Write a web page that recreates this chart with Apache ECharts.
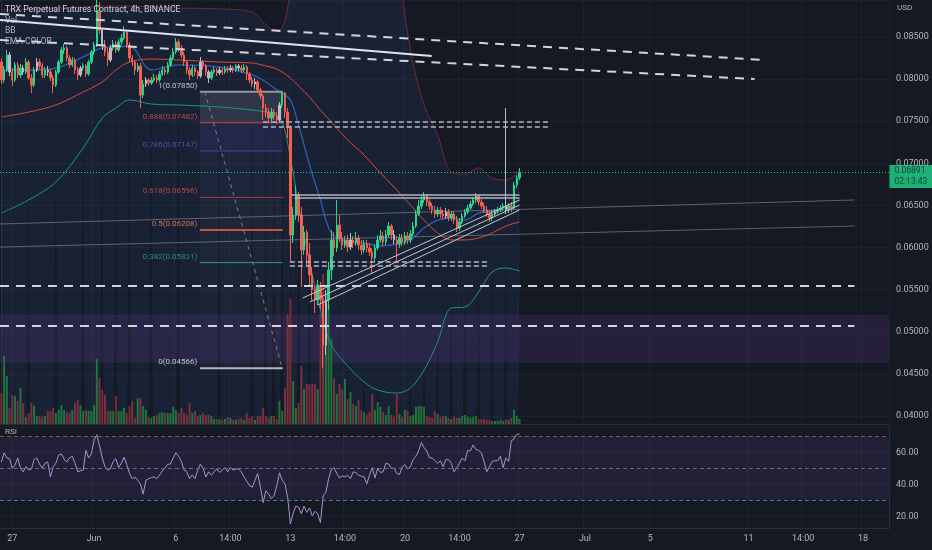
<!DOCTYPE html>
<html><head><meta charset="utf-8">
<script src="https://cdn.jsdelivr.net/npm/echarts@6/dist/echarts.min.js"></script>
<style>html,body{margin:0;padding:0;background:#151924;}#c{width:932px;height:550px;}</style>
</head><body><div id="c"></div>
<script>
// ---- data: 4h candles [open, close, low, high] ----
const candles = [
[0.08203,0.07990,0.07942,0.08251],[0.07990,0.08108,0.07954,0.08156],[0.08108,0.08286,0.08084,0.08346],[0.08286,0.08084,0.08037,0.08322],[0.08084,0.07990,0.07918,0.08132],
[0.07990,0.08168,0.07966,0.08203],[0.08168,0.08049,0.08013,0.08203],[0.08049,0.08132,0.08013,0.08180],[0.08132,0.08084,0.08049,0.08168],[0.08084,0.08203,0.08061,0.08251],
[0.08203,0.08013,0.07990,0.08227],[0.08013,0.07930,0.07835,0.08061],[0.07930,0.08108,0.07906,0.08144],[0.08108,0.08203,0.08084,0.08251],[0.08203,0.08156,0.08120,0.08239],
[0.08156,0.08049,0.08013,0.08191],[0.08049,0.08108,0.08013,0.08144],[0.08108,0.08084,0.08037,0.08156],[0.08084,0.08013,0.07978,0.08120],[0.08013,0.07930,0.07835,0.08049],
[0.07930,0.08084,0.07906,0.08108],[0.08084,0.08203,0.08061,0.08227],[0.08203,0.08346,0.08180,0.08381],[0.08346,0.08370,0.08298,0.08417],[0.08370,0.08251,0.08215,0.08393],
[0.08251,0.08168,0.08132,0.08286],[0.08168,0.08227,0.08144,0.08263],[0.08227,0.08108,0.08061,0.08251],[0.08108,0.08049,0.07990,0.08144],[0.08049,0.08132,0.08025,0.08156],
[0.08132,0.08156,0.08096,0.08191],[0.08156,0.08061,0.08025,0.08180],[0.08061,0.08203,0.08037,0.08227],[0.08203,0.08322,0.08180,0.08346],[0.08322,0.08405,0.08286,0.08441],
[0.08405,0.08797,0.08381,0.09020],[0.08797,0.08583,0.08536,0.08916],[0.08583,0.08405,0.08346,0.08607],[0.08405,0.08322,0.08275,0.08465],[0.08322,0.08227,0.08156,0.08370],
[0.08227,0.08370,0.08203,0.08405],[0.08370,0.08417,0.08334,0.08465],[0.08417,0.08346,0.08310,0.08453],[0.08346,0.08441,0.08322,0.08476],[0.08441,0.08488,0.08405,0.08536],
[0.08488,0.08559,0.08465,0.08631],[0.08559,0.08405,0.08370,0.08583],[0.08405,0.08251,0.08203,0.08441],[0.08251,0.08203,0.08156,0.08286],[0.08203,0.08108,0.08049,0.08227],
[0.08108,0.08156,0.08084,0.08191],[0.08156,0.07811,0.07657,0.08191],[0.07811,0.07942,0.07776,0.07990],[0.07942,0.07990,0.07906,0.08025],[0.07990,0.07954,0.07918,0.08013],
[0.07954,0.07990,0.07930,0.08025],[0.07990,0.08013,0.07966,0.08061],[0.08013,0.07990,0.07954,0.08049],[0.07990,0.08061,0.07966,0.08096],[0.08061,0.08108,0.08037,0.08156],
[0.08108,0.08084,0.08049,0.08144],[0.08084,0.08168,0.08061,0.08203],[0.08168,0.08251,0.08144,0.08286],[0.08251,0.08322,0.08227,0.08370],[0.08322,0.08441,0.08298,0.08488],
[0.08441,0.08370,0.08322,0.08476],[0.08370,0.08286,0.08251,0.08405],[0.08286,0.08203,0.08156,0.08322],[0.08203,0.08108,0.08061,0.08227],[0.08108,0.08049,0.07990,0.08144],
[0.08049,0.08132,0.08025,0.08168],[0.08132,0.08084,0.08037,0.08156],[0.08084,0.08037,0.08001,0.08108],[0.08037,0.08203,0.08013,0.08263],[0.08203,0.08156,0.08108,0.08227],
[0.08156,0.08084,0.08037,0.08180],[0.08084,0.08013,0.07954,0.08108],[0.08013,0.08084,0.07990,0.08108],[0.08084,0.08108,0.08061,0.08144],[0.08108,0.08073,0.08037,0.08132],
[0.08073,0.08108,0.08049,0.08144],[0.08108,0.08084,0.08049,0.08132],[0.08084,0.08120,0.08061,0.08156],[0.08120,0.08108,0.08073,0.08156],[0.08108,0.08132,0.08084,0.08168],
[0.08132,0.08108,0.08073,0.08156],[0.08108,0.08156,0.08084,0.08180],[0.08156,0.08132,0.08096,0.08180],[0.08132,0.08108,0.08073,0.08168],[0.08108,0.08144,0.08084,0.08180],
[0.08144,0.08061,0.07990,0.08168],[0.08061,0.07990,0.07954,0.08084],[0.07990,0.07942,0.07906,0.08025],[0.07942,0.07966,0.07883,0.08013],[0.07966,0.07871,0.07835,0.07990],
[0.07871,0.07799,0.07764,0.07894],[0.07799,0.07657,0.07515,0.07823],[0.07657,0.07609,0.07550,0.07704],[0.07609,0.07538,0.07479,0.07657],[0.07538,0.07609,0.07503,0.07657],
[0.07609,0.07562,0.07515,0.07645],[0.07562,0.07515,0.07467,0.07609],[0.07515,0.07693,0.07491,0.07728],[0.07693,0.07835,0.07657,0.07850],[0.07835,0.07609,0.07538,0.07847],
[0.07609,0.07420,0.07301,0.07657],[0.07420,0.06149,0.05829,0.07455],[0.06149,0.06386,0.06054,0.06481],[0.06386,0.06624,0.06327,0.06743],[0.06624,0.06386,0.06303,0.06660],
[0.06386,0.05971,0.05531,0.06481],[0.05971,0.06184,0.05912,0.06256],[0.06184,0.05912,0.05769,0.06208],[0.05912,0.05674,0.05531,0.06054],[0.05674,0.05496,0.05377,0.05769],
[0.05496,0.05377,0.05223,0.05555],[0.05377,0.05555,0.05318,0.05615],[0.05555,0.05377,0.05259,0.05591],[0.05377,0.04843,0.04566,0.05436],[0.04843,0.05377,0.04724,0.05496],
[0.05377,0.05734,0.05259,0.05829],[0.05734,0.06090,0.05615,0.06208],[0.06090,0.05995,0.05900,0.06184],[0.05995,0.06267,0.05947,0.06565],[0.06267,0.06113,0.06066,0.06386],
[0.06113,0.06030,0.05971,0.06184],[0.06030,0.06090,0.05995,0.06137],[0.06090,0.06006,0.05947,0.06149],[0.06006,0.06090,0.05971,0.06173],[0.06090,0.06054,0.05995,0.06137],
[0.06054,0.06113,0.06018,0.06184],[0.06113,0.06030,0.05971,0.06149],[0.06030,0.05971,0.05912,0.06090],[0.05971,0.06042,0.05935,0.06090],[0.06042,0.05995,0.05947,0.06090],
[0.05995,0.05947,0.05900,0.06054],[0.05947,0.05876,0.05698,0.05995],[0.05876,0.05995,0.05829,0.06042],[0.05995,0.06090,0.05971,0.06149],[0.06090,0.06137,0.06054,0.06208],
[0.06137,0.06066,0.06018,0.06184],[0.06066,0.06149,0.06030,0.06208],[0.06149,0.06256,0.06113,0.06303],[0.06256,0.06149,0.06090,0.06279],[0.06149,0.06090,0.06042,0.06208],
[0.06090,0.06042,0.05817,0.06137],[0.06042,0.06113,0.05995,0.06161],[0.06113,0.06066,0.06018,0.06161],[0.06066,0.06137,0.06030,0.06184],[0.06137,0.06090,0.06042,0.06184],
[0.06090,0.06161,0.06054,0.06208],[0.06161,0.06256,0.06137,0.06303],[0.06256,0.06398,0.06232,0.06446],[0.06398,0.06493,0.06374,0.06565],[0.06493,0.06565,0.06458,0.06612],
[0.06565,0.06612,0.06529,0.06660],[0.06612,0.06541,0.06493,0.06636],[0.06541,0.06493,0.06446,0.06576],[0.06493,0.06446,0.06398,0.06529],[0.06446,0.06398,0.06351,0.06493],
[0.06398,0.06446,0.06363,0.06481],[0.06446,0.06398,0.06351,0.06481],[0.06398,0.06374,0.06327,0.06446],[0.06374,0.06422,0.06339,0.06469],[0.06422,0.06351,0.06315,0.06458],
[0.06351,0.06398,0.06315,0.06434],[0.06398,0.06327,0.06279,0.06434],[0.06327,0.06232,0.06184,0.06374],[0.06232,0.06303,0.06196,0.06351],[0.06303,0.06374,0.06279,0.06410],
[0.06374,0.06422,0.06351,0.06458],[0.06422,0.06469,0.06398,0.06505],[0.06469,0.06517,0.06446,0.06553],[0.06517,0.06565,0.06493,0.06600],[0.06565,0.06612,0.06529,0.06648],
[0.06612,0.06541,0.06505,0.06636],[0.06541,0.06493,0.06458,0.06576],[0.06493,0.06446,0.06410,0.06529],[0.06446,0.06398,0.06363,0.06493],[0.06398,0.06351,0.06303,0.06446],
[0.06351,0.06398,0.06315,0.06446],[0.06398,0.06422,0.06363,0.06458],[0.06422,0.06446,0.06398,0.06481],[0.06446,0.06469,0.06422,0.06505],[0.06469,0.06493,0.06434,0.06529],
[0.06493,0.06446,0.06398,0.07657],[0.06446,0.06493,0.06410,0.06529],[0.06493,0.06469,0.06422,0.06541],[0.06469,0.06743,0.06446,0.06778],[0.06743,0.06826,0.06707,0.06861],
[0.06826,0.06891,0.06802,0.06945]
];
const neutralBars = [3,8,13,17,29,37,40,53,73,76,80,84,87,93,102,119,128,144,163,181,185];
const volumes = [31,68,48,16,29,28,23,36,21,7, 11,21,18,8,8,7,8,13,13,16, 11,14,19,14,12,11,14,21,24,19, 13,14,13,13,19,65,46,34,29,13,
 13,13,28,13,13,16,11,18,23,6, 26,26,18,14,7,6,8,9,11,12, 11,11,11,17,14,11,16,11,9,21, 11,13,8,9,11,9,9,8,5,5,
 5,4,5,7,6,4,4,5,6,4, 11,6,8,4,8,8,16,8,6,8, 8,5,23,13,36,110,125,43,16,21, 58,35,40,40,40,40,35,110,150,130,
 120,85,45,30,40,35,45,25,32,20, 18,24,14,12,9,12,30,14,22,17, 12,9,18,9,7,30,10,7,14,13, 8,9,17,18,18,17,8,7,6,13,
 10,7,8,8,6,5,7,6,6,8, 9,7,6,7,8,5,5,5,4,4, 3,3,3,4,3,5,4,6,14,8, 5];
const rsiValues = [53.9,59.7,56.5,56,50,52,56.5,50,47.8,51,49,49.4,55.4,56.5,52.6,50,53.2,53.9,44.6,51,53.2,58.2,59,55.8,53.9,56.5,57.5,53.2,47.8,48.5,48.9,
 61.2,56.5,59,67.6,71,64,56.5,51,48.9,49.6,54.3,56,50.4,53.2,56.9,52.2,46.8,43.5,44.6,42.5,40.3,33.9,42.5,43.5,44.2,44.6,43.5,45.7,48.3,50,52.6,52.6,
 56.5,59.7,57.5,54.3,48.9,47.8,43.5,45.9,43.5,48.9,52.6,50,44.6,47.8,45.7,47.8,49.6,47.4,48.9,50.4,47.8,50.4,48.9,49.6,49.6,47.8,44.6,41.8,39.2,38.2,42.5,46.8,
 38.2,28.5,36,33.9,31.1,32.8,39.2,47.2,42.5,40.3,31.7,15.2,22,26.3,25.7,21.6,26.3,22.5,25.3,20.3,23.1,21.6,16,32.8,35,43.5,49.4,50.4,46.8,44,
 45.3,44.6,45.7,43.5,47.8,47.2,45.7,45.1,44.6,40.3,45.7,50.4,44,50,47.4,47.8,53.2,52.6,50,50,46.8,46.1,51,52.2,49.6,51,55.4,57.5,60.8,66.1,
 62.9,60.8,56.5,56.5,54.7,53.2,54.7,51,55.4,55.4,53.2,47.8,50.4,53.2,56.5,54.7,61.2,60.8,64.6,61.8,61.2,59.7,54.3,47.8,51,54.3,54.7,54.7,57.5,50.4,
 56.5,54.3,67.2,68.3,71.1,71.5];
// indicator readings at sampled bars
const bandIdx = [0,10,20,30,37,42,47,55,65,80,92,97,100,103,106,109,113,117,121,127,133,138,145,150,155,160,165,170,175,180,185,190];
const bbUpper = [0.08821,0.08833,0.08844,0.08856,0.08868,0.08868,0.08868,0.08856,0.08844,0.08833,0.08797,0.08643,0.08583,0.08607,0.09058,0.09652,0.10008,0.10245,0.10364,0.10424,0.10364,0.10245,0.09414,0.08346,0.07693,0.07337,0.06897,0.06873,0.06945,0.06826,0.06802,0.06921];
const bbLower = [0.06410,0.06565,0.06778,0.07182,0.07538,0.07657,0.07752,0.07704,0.07693,0.07669,0.07633,0.07609,0.07574,0.07491,0.07063,0.06505,0.05829,0.05259,0.04843,0.04594,0.04404,0.04308,0.04273,0.04332,0.04546,0.04879,0.05282,0.05294,0.05472,0.05710,0.05757,0.05722];
const bbBasis = [0.08108,0.08108,0.08132,0.08263,0.08370,0.08381,0.08393,0.08108,0.08168,0.08144,0.08049,0.07966,0.07894,0.07835,0.07752,0.07455,0.06980,0.06565,0.06173,0.06066,0.06054,0.06018,0.06042,0.06090,0.06232,0.06327,0.06351,0.06327,0.06410,0.06434,0.06481,0.06565];
const emaLine = [0.07550,0.07609,0.07693,0.07847,0.07966,0.08108,0.08203,0.08239,0.08227,0.08203,0.08191,0.08156,0.08132,0.08084,0.08013,0.07918,0.07788,0.07633,0.07491,0.07277,0.07099,0.06921,0.06683,0.06505,0.06327,0.06173,0.06090,0.06090,0.06113,0.06173,0.06256,0.06303];
// time axis
const slotCount = 326;
const tickSlots = [4,34,64,84,106,126,148,168,190,214,238,274,294,316];
const tickTexts = ['27','Jun','6','14:00','13','14:00','20','14:00','27','Jul','5','11','14:00','18'];
const lastPrice = 0.06891;
const countdown = '02:13:43';
// fibonacci retracement
const fibLevels = [1,0.888,0.786,0.618,0.5,0.382,0];
const fibPrices = [0.07850,0.07482,0.07147,0.06596,0.06208,0.05821,0.04566];
const fibFrom = 72.8, fibTo = 103.2;
// user drawings [bar, price]
const trendSolid = [[-0.5,0.08702],[157.8,0.08275]];
const dashHigh = [[-0.5,0.08773],[279.8,0.08227]];
const dashLow = [[-0.5,0.08465],[276.2,0.08001]];
const longDashA = [[-0.5,0.05544],[312.8,0.05544]];
const longDashB = [[-0.5,0.05069],[312.8,0.05069]];
const grayLineA = [[-0.5,0.06280],[312.8,0.06565]];
const grayLineB = [[-0.5,0.06006],[312.8,0.06256]];
const topDashA = [[95.9,0.07491],[201,0.07491]];
const topDashB = [[95.9,0.07431],[201,0.07431]];
const baseDashA = [[105.8,0.05829],[178.3,0.05829]];
const baseDashB = [[105.8,0.05781],[178.3,0.05781]];
const rangeTopA = [[106.5,0.06624],[190,0.06624]];
const rangeTopB = [[107.5,0.06588],[190,0.06588]];
const channelA = [[110.5,0.05401],[190,0.06565]];
const channelB = [[113.1,0.05354],[190,0.06505]];
const channelC = [[116,0.05318],[190,0.06446]];
const fibDiagonal = [[74.6,0.07850],[103,0.04566]];
const zoneTop = 0.0520, zoneBottom = 0.0463;

// ---- build ----
const FONT = 'Roboto, "Open Sans", sans-serif';
const N = candles.length;
const upCol = '#22d68a', dnCol = '#f05f50', neuCol = '#b9bcc5';
const tickMap = {}; tickSlots.forEach((s,k)=>{tickMap[s]=tickTexts[k];});
const t0 = Date.UTC(2022,4,26,8);
const categories = [];
for (let i=0;i<slotCount;i++){ categories.push(new Date(t0+i*4*3600e3).toISOString().slice(0,13)); }
function sparse(idx, vals){ const a = new Array(N).fill(null); idx.forEach((k,j)=>{a[k]=vals[j];}); return a; }
const bandWidth = bbUpper.map((u,j)=>u-bbLower[j]);
const candleData = candles.map((c,i)=> neutralBars.includes(i) ? {value:c,itemStyle:{color:neuCol,color0:neuCol,borderColor:neuCol,borderColor0:neuCol}} : c);
const volData = volumes.map((v,i)=>({value:v,itemStyle:{color: candles[i][1]>=candles[i][0] ? '#1e7432' : '#7c2c35'}}));
const onStep = (v,s)=>Math.abs(v/s-Math.round(v/s))<1e-6;

function drawLine(data, color, width, type, z){
  return {type:'line', xAxisIndex:2, yAxisIndex:0, data:data, symbol:'none', silent:true, z:z||6,
    lineStyle:{color:color, width:width, type:type||'solid'}};
}
const fibLineColors = ['#9598a1','#c7404a','#4c3f9e','#a83a3e','#f26b3a','#2a9d6e','#b2b5be'];
const fibLabelColors = ['#e0e3eb','#e04e57','#6a5ac8','#d9534f','#f7845e','#35a87a','#e0e3eb'];
const fibFillColors = ['rgba(130,134,146,0.22)','rgba(90,78,180,0.16)','rgba(90,90,140,0.07)','rgba(120,123,134,0.06)','rgba(120,123,134,0.05)','rgba(120,123,134,0.035)'];

const series = [
  {type:'bar', xAxisIndex:0, yAxisIndex:1, data:volData, barWidth:'72%', z:1, silent:true},
  {type:'line', xAxisIndex:0, yAxisIndex:0, data:sparse(bandIdx,bbLower), stack:'bb', connectNulls:true, smooth:0.35,
    symbol:'none', silent:true, lineStyle:{color:'#1b9286', width:1}, z:2,
    markArea:{silent:true, itemStyle:{color:'rgba(105,55,150,0.2)'}, data:[[{yAxis:zoneTop},{yAxis:zoneBottom}]]}},
  {type:'line', xAxisIndex:0, yAxisIndex:0, data:sparse(bandIdx,bandWidth), stack:'bb', connectNulls:true, smooth:0.35,
    symbol:'none', silent:true, lineStyle:{color:'#7a2532', width:1}, areaStyle:{color:'rgba(62,112,190,0.15)'}, z:2},
  {type:'line', xAxisIndex:0, yAxisIndex:0, data:sparse(bandIdx,bbBasis), connectNulls:true, smooth:0.35,
    symbol:'none', silent:true, lineStyle:{color:'#2b5fb3', width:1.3}, z:3},
  {type:'line', xAxisIndex:0, yAxisIndex:0, data:sparse(bandIdx,emaLine), connectNulls:true, smooth:0.35,
    symbol:'none', silent:true, lineStyle:{color:'#d94a3a', width:1}, z:3},
  {type:'candlestick', xAxisIndex:0, yAxisIndex:0, data:candleData, barWidth:'70%', z:4, silent:true,
    itemStyle:{color:upCol,color0:dnCol,borderColor:upCol,borderColor0:dnCol,borderWidth:1}},
  drawLine([[-0.5,lastPrice],[slotCount-0.5,lastPrice]],'#22c98a',1,[1,2],5),
  drawLine(grayLineA,'rgba(150,154,165,0.55)',1),
  drawLine(grayLineB,'rgba(150,154,165,0.55)',1),
  drawLine(trendSolid,'#e0e3eb',2),
  drawLine(dashHigh,'#d1d4dc',2,[9,7]),
  drawLine(dashLow,'#d1d4dc',2,[9,7]),
  drawLine(longDashA,'#d1d4dc',2,[9,7]),
  drawLine(longDashB,'#d1d4dc',2,[9,7]),
  drawLine(topDashA,'#b2b5be',1.5,[5,3]),
  drawLine(topDashB,'#b2b5be',1.5,[5,3]),
  drawLine(baseDashA,'#b2b5be',1.5,[5,3]),
  drawLine(baseDashB,'#b2b5be',1.5,[5,3]),
  drawLine(rangeTopA,'#b2b5be',1.5),
  drawLine(rangeTopB,'#b2b5be',1.5),
  drawLine(channelA,'#c3c6ce',1),
  drawLine(channelB,'#c3c6ce',1),
  drawLine(channelC,'#c3c6ce',1),
  drawLine(fibDiagonal,'#7c7f8a',1,[4,4]),
];
fibPrices.forEach((p,k)=>{
  const s = drawLine([[fibFrom,p],[fibTo,p]], fibLineColors[k], (k===0||k===6)?2:(k===4?1.5:1), 'solid', 3);
  if (k===0){
    s.markArea = {silent:true, data: fibPrices.slice(0,-1).map((q,j)=>[{coord:[fibFrom,q], itemStyle:{color:fibFillColors[j]}},{coord:[fibTo,fibPrices[j+1]]}])};
  }
  series.push(s);
});
series.push({type:'scatter', xAxisIndex:2, yAxisIndex:0, symbolSize:1, silent:true, z:7,
  itemStyle:{color:'rgba(0,0,0,0)'},
  data: fibPrices.map((p,k)=>({value:[fibFrom,p], label:{color:fibLabelColors[k]}})),
  label:{show:true, position:'left', distance:2, offset:[0,-6], fontSize:8, fontFamily:FONT,
    formatter:(pr)=>fibLevels[pr.dataIndex]+'('+fibPrices[pr.dataIndex].toFixed(5)+')'}});
// last-price tag on the price scale
series.push({type:'scatter', xAxisIndex:2, yAxisIndex:0, symbolSize:1, silent:true, z:9,
  itemStyle:{color:'rgba(0,0,0,0)'}, data:[[slotCount-0.5,lastPrice]],
  label:{show:true, position:'right', distance:0, offset:[0,4], formatter:()=>lastPrice.toFixed(5)+'\n'+countdown,
    backgroundColor:'#22d68d', color:'#0b2418', fontSize:8.5, fontFamily:FONT, padding:[1,6,1,5], lineHeight:10.5}});
series.push({type:'line', xAxisIndex:1, yAxisIndex:2, data:rsiValues, symbol:'none', silent:true,
  lineStyle:{color:'#a893cf', width:1}, z:3,
  markArea:{silent:true, itemStyle:{color:'rgba(126,87,194,0.12)'}, data:[[{yAxis:70},{yAxis:30}]]},
  markLine:{silent:true, symbol:'none', label:{show:false}, lineStyle:{type:[4,3], width:1},
    data:[{yAxis:70, lineStyle:{color:'#a4474b'}},{yAxis:50, lineStyle:{color:'#6d6483'}},{yAxis:30, lineStyle:{color:'#2a8f78'}}]}});

const txt = (text,left,top,size,color)=>({text:text, left:left, top:top, padding:0,
  textStyle:{color:color, fontSize:size, fontWeight:'normal', fontFamily:FONT}});

const option = {
  animation:false,
  backgroundColor:'#151924',
  title:[
    txt('TRX Perpetual Futures Contract, 4h, BINANCE',5,5,8.7,'#d1d4dc'),
    txt('Vol',5,16.5,8.5,'#b2b5be'),
    txt('BB',5,26.5,8.5,'#b2b5be'),
    txt('EMA COLOR',5,37.5,8.5,'#b2b5be'),
    txt('RSI',5,428,8,'#b2b5be'),
    txt('USD',897,4,8,'#b2b5be')
  ],
  grid:[
    {left:0, right:43, top:0, height:424},
    {left:0, right:43, top:427, height:101}
  ],
  xAxis:[
    {type:'category', gridIndex:0, data:categories, boundaryGap:true,
      axisLabel:{show:false}, axisTick:{show:false},
      axisLine:{show:true, onZero:false, lineStyle:{color:'#2a2e39'}},
      splitLine:{show:true, interval:(i)=>tickMap[i]!==undefined, lineStyle:{color:'#1d212c'}}},
    {type:'category', gridIndex:1, data:categories, boundaryGap:true, axisTick:{show:false},
      axisLine:{show:true, onZero:false, lineStyle:{color:'#2a2e39'}},
      axisLabel:{interval:(i)=>tickMap[i]!==undefined, formatter:(v,i)=>tickMap[i]||'', color:'#b2b5be', fontSize:9, fontFamily:FONT, margin:6},
      splitLine:{show:true, interval:(i)=>tickMap[i]!==undefined, lineStyle:{color:'#1d212c'}}},
    {type:'value', gridIndex:0, min:-0.5, max:slotCount-0.5, show:false}
  ],
  yAxis:[
    {type:'value', gridIndex:0, position:'right', min:0.03905, max:0.089394, splitNumber:10, minInterval:0.005, maxInterval:0.005,
      axisLine:{show:true, lineStyle:{color:'#2a2e39'}}, axisTick:{show:false},
      axisLabel:{color:'#b2b5be', fontSize:9, fontFamily:FONT, margin:7, showMinLabel:false, showMaxLabel:false,
        formatter:(v)=>onStep(v,0.005)?v.toFixed(5):''},
      splitLine:{lineStyle:{color:'#1d212c'}}},
    {type:'value', gridIndex:0, min:0, max:424, show:false},
    {type:'value', gridIndex:1, position:'right', min:12.7, max:75.8, splitNumber:3, minInterval:20, maxInterval:20,
      axisLine:{show:true, lineStyle:{color:'#2a2e39'}}, axisTick:{show:false},
      axisLabel:{color:'#b2b5be', fontSize:9, fontFamily:FONT, margin:7, showMinLabel:false, showMaxLabel:false,
        formatter:(v)=>onStep(v,20)?v.toFixed(2):''},
      splitLine:{lineStyle:{color:'#1d212c'}}}
  ],
  series:series
};
const chart = echarts.init(document.getElementById('c'));
chart.setOption(option);
</script>
</body></html>
